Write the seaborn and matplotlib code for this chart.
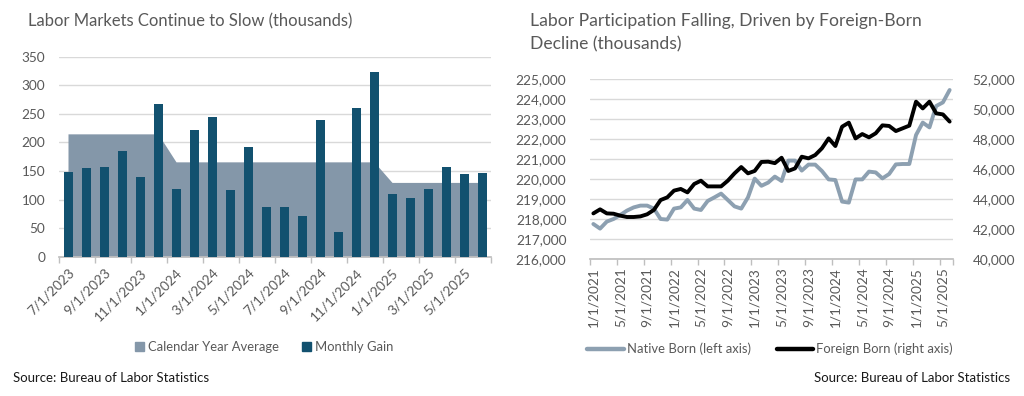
import matplotlib
matplotlib.use("Agg")
import matplotlib.pyplot as plt
import seaborn as sns
import pandas as pd
import numpy as np
from matplotlib.patches import Patch
from matplotlib.lines import Line2D
from matplotlib.ticker import FuncFormatter, FixedLocator

# ---------------- data: left chart ----------------
gain_months = ["7/1/2023", "8/1/2023", "9/1/2023", "10/1/2023", "11/1/2023", "12/1/2023",
               "1/1/2024", "2/1/2024", "3/1/2024", "4/1/2024", "5/1/2024", "6/1/2024",
               "7/1/2024", "8/1/2024", "9/1/2024", "10/1/2024", "11/1/2024", "12/1/2024",
               "1/1/2025", "2/1/2025", "3/1/2025", "4/1/2025", "5/1/2025", "6/1/2025"]
monthly_gain = [148, 156, 157, 185, 140, 268, 118, 221, 245, 117, 192, 87,
                87, 71, 239, 43, 260, 323, 110, 102, 119, 157, 144, 146]
calendar_avg = [215, 215, 215, 215, 215, 215, 166, 166, 166, 166, 166, 166,
                166, 166, 166, 166, 166, 166, 130, 130, 130, 130, 130, 130]

# ---------------- data: right chart ----------------
part_months = [f"{m}/1/{y}" for y in (2021, 2022, 2023, 2024) for m in range(1, 13)] + \
              [f"{m}/1/2025" for m in range(1, 7)]
native_born = [217750, 217520, 217870, 218000, 218200, 218420, 218580, 218670, 218670, 218520,
               218000, 217970, 218520, 218580, 218950, 218520, 218450, 218900, 219080, 219270,
               218950, 218630, 218520, 219080, 220020, 219660, 219820, 220120, 219900, 220920,
               220920, 220420, 220720, 220720, 220400, 219980, 219950, 218870, 218820, 219980,
               219980, 220370, 220330, 220030, 220250, 220730, 220750, 220750, 222200, 222820,
               222580, 223650, 223830, 224450]
foreign_born = [43040, 43310, 43040, 43020, 42890, 42800, 42800, 42840, 42980, 43270,
                43930, 44110, 44560, 44670, 44440, 45000, 45220, 44840, 44840, 44840,
                45220, 45710, 46130, 45710, 45870, 46470, 46490, 46390, 46750, 45870,
                46040, 46820, 46710, 46930, 47380, 48040, 47530, 48820, 49090, 48040,
                48330, 48110, 48380, 48910, 48870, 48530, 48710, 48890, 50490, 50040,
                50490, 49710, 49640, 49160]

BAR_C = "#12516F"
AREA_C = "#8497A9"
NATIVE_C = "#8DA0B1"
FOREIGN_C = "#000000"
GRID_C = "#D9D9D9"
TXT_C = "#595959"

sns.set_theme(style="white")
plt.rcParams["font.family"] = ["Lato", "DejaVu Sans"]

fig = plt.figure(figsize=(10.24, 3.96), dpi=100)
W, H = 1024, 396

def axes_px(x0, y0, x1, y1):
    return fig.add_axes([x0 / W, 1 - y1 / H, (x1 - x0) / W, (y1 - y0) / H])

# ================= LEFT CHART =================
ax1 = axes_px(59, 56.7, 491, 256.7)
df1 = pd.DataFrame({"month": gain_months, "gain": monthly_gain, "avg": calendar_avg})
xi = np.arange(len(df1))
ax1.fill_between(xi, 0, df1["avg"], color=AREA_C, linewidth=0, zorder=2)
sns.barplot(data=df1, x="month", y="gain", color=BAR_C, width=0.5, ax=ax1,
            saturation=1, zorder=3, order=gain_months, linewidth=0, edgecolor=BAR_C)
ax1.set_xlim(-0.5, len(df1) - 0.5)
ax1.set_ylim(0, 350)
ax1.set_yticks(range(0, 351, 50))
ax1.yaxis.grid(True, color=GRID_C, linewidth=1)
ax1.set_axisbelow(True)
ax1.set_xlabel("")
ax1.set_ylabel("")
for s in ("top", "right", "left"):
    ax1.spines[s].set_visible(False)
ax1.spines["bottom"].set_color("#BFBFBF")
ax1.set_xticks(xi[::2])
ax1.set_xticklabels(gain_months[::2], rotation=45, ha="right", rotation_mode="anchor")
ax1.xaxis.set_minor_locator(FixedLocator(np.arange(-0.5, len(df1), 2)))
ax1.tick_params(axis="x", which="major", length=0, pad=7, labelsize=9.8, labelcolor=TXT_C)
ax1.tick_params(axis="x", which="minor", length=4, color="#BFBFBF", bottom=True)
ax1.tick_params(axis="y", length=0, pad=10, labelsize=9.8, labelcolor=TXT_C)

fig.text(28 / W, 1 - 21 / H, "Labor Markets Continue to Slow (thousands)",
         fontsize=12, color=TXT_C, va="center", ha="left")
fig.legend(handles=[Patch(color=AREA_C, label="Calendar Year Average"),
                    Patch(color=BAR_C, label="Monthly Gain")],
           loc="center", bbox_to_anchor=(264 / W, 1 - 347 / H), ncol=2, frameon=False,
           fontsize=9.4, handlelength=0.7, handleheight=0.7, handletextpad=0.3,
           columnspacing=1.8, labelcolor=TXT_C)
fig.text(13 / W, 1 - 378 / H, "Source: Bureau of Labor Statistics",
         fontsize=9.5, color="#1a1a1a", va="center", ha="left")

# ================= RIGHT CHART =================
ax2 = axes_px(590, 79, 953, 259)
df2 = pd.DataFrame({"k": np.arange(len(part_months)), "month": part_months,
                    "native": native_born, "foreign": foreign_born})
sns.lineplot(data=df2, x="k", y="native", color=NATIVE_C, linewidth=2.8, ax=ax2, zorder=3)
ax2.set_xlim(-0.5, len(df2) - 0.5)
ax2.set_ylim(216000, 225000)
ax2.set_yticks(range(216000, 225001, 1000))
ax2.yaxis.set_major_formatter(FuncFormatter(lambda v, p: f"{int(v):,}"))
ax2.yaxis.grid(True, color=GRID_C, linewidth=1)
ax2.set_xlabel("")
ax2.set_ylabel("")
for s in ("top", "right", "left"):
    ax2.spines[s].set_visible(False)
ax2.spines["bottom"].set_color("#BFBFBF")
ax2.set_xticks(df2["k"][::4])
ax2.set_xticklabels(part_months[::4], rotation=90, ha="center", va="top")
ax2.xaxis.set_minor_locator(FixedLocator(list(np.arange(-0.5, len(df2) - 1, 4)) + [len(df2) - 0.5]))
ax2.tick_params(axis="x", which="major", length=0, pad=6, labelsize=9.8, labelcolor=TXT_C)
ax2.tick_params(axis="x", which="minor", length=4, color="#BFBFBF", bottom=True)
ax2.tick_params(axis="y", length=0, pad=17, labelsize=9.8, labelcolor=TXT_C)

ax3 = ax2.twinx()
sns.lineplot(data=df2, x="k", y="foreign", color=FOREIGN_C, linewidth=2.8, ax=ax3, zorder=4)
ax3.set_ylim(40000, 52000)
ax3.set_yticks(range(40000, 52001, 2000))
ax3.yaxis.set_major_formatter(FuncFormatter(lambda v, p: f"{int(v):,}"))
ax3.set_ylabel("")
for s in ("top", "right", "left", "bottom"):
    ax3.spines[s].set_visible(False)
ax3.tick_params(axis="y", length=0, pad=14, labelsize=9.8, labelcolor=TXT_C)
ax3.grid(False)

fig.text(530 / W, 1 - 21 / H, "Labor Participation Falling, Driven by Foreign-Born",
         fontsize=12.6, color=TXT_C, va="center", ha="left")
fig.text(530 / W, 1 - 44 / H, "Decline (thousands)",
         fontsize=12.6, color=TXT_C, va="center", ha="left")
fig.legend(handles=[Line2D([], [], color=NATIVE_C, linewidth=3.2, label="Native Born (left axis)"),
                    Line2D([], [], color=FOREIGN_C, linewidth=3.2, label="Foreign Born (right axis)")],
           loc="center", bbox_to_anchor=(770 / W, 1 - 349 / H), ncol=2, frameon=False,
           fontsize=9.4, handlelength=2.8, handletextpad=0.2, columnspacing=2.0,
           labelcolor=TXT_C)
fig.text(1010 / W, 1 - 378 / H, "Source: Bureau of Labor Statistics",
         fontsize=9.5, color="#1a1a1a", va="center", ha="right")

fig.savefig("out.png", dpi=100)
